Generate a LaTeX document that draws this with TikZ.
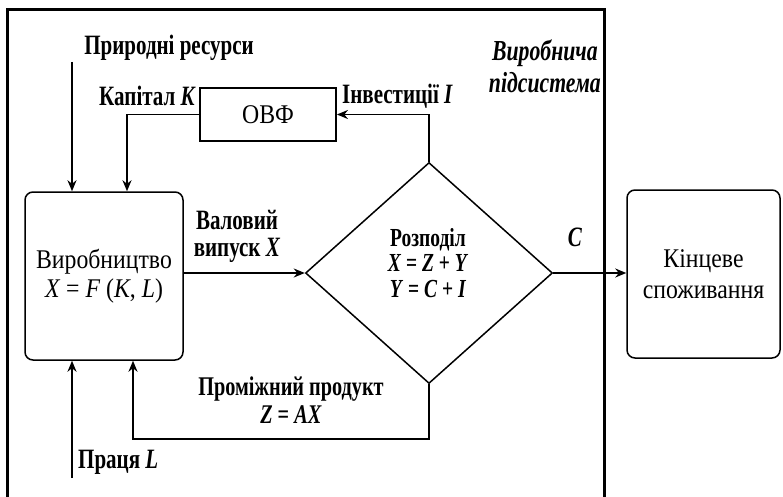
\documentclass[tikz,border=0pt]{standalone}
\usepackage{fontspec}
\setmainfont{Liberation Serif}
\newfontfamily\condb[FakeStretch=0.75]{Liberation Serif}
\newfontfamily\condr[FakeStretch=0.88]{Liberation Serif}
\usetikzlibrary{shapes.geometric,arrows.meta}
\begin{document}
\begin{tikzpicture}[x=1pt,y=-1pt,
  rbox/.style={draw, line width=1.5pt, rounded corners=8pt, inner sep=0pt, align=center,
    font=\condr\fontsize{27}{29}\selectfont},
  sbox/.style={draw, line width=1.8pt, inner sep=0pt, font=\condr\fontsize{27}{29}\selectfont},
  lbl/.style={inner sep=0pt, align=center, font=\condb\bfseries\fontsize{28}{27}\selectfont},
  conn/.style={line width=1.8pt},
  arr/.style={conn, -{Stealth[length=11pt,width=9pt]}}]
\useasboundingbox (0,0) rectangle (783,497);
\draw[line width=3pt] (7,497) -- (7,10) -- (604,10) -- (604,497);
% nodes
\node[rbox, minimum width=158pt, minimum height=168pt] (prod) at (104,276)
  {Виробництво\\\textit{X} = \textit{F} (\textit{K}, \textit{L})};
\node[sbox, minimum width=136pt, minimum height=53pt] (ovf) at (268,114.5) {ОВФ};
\node[draw, line width=1.5pt, diamond, minimum width=247pt, minimum height=221pt, inner sep=0pt] (dia) at (429,273) {};
\node[rbox, font=\condr\fontsize{27}{31}\selectfont, minimum width=153pt, minimum height=168pt] (fin) at (703.5,274)
  {Кінцеве\\споживання};
% free ends
\coordinate (nr) at (72,62);
\coordinate (lab) at (72,478);
% connectors
\draw[arr] (nr) -- (nr |- prod.north);
\draw[arr] (lab) -- (lab |- prod.south);
\draw[arr] (ovf.west) -| ([xshift=23pt]prod.north);
\draw[arr] (dia.north) |- (ovf.east);
\draw[arr] (prod.east |- dia.west) -- (dia.west);
\draw[arr] (dia.east) -- (dia.east -| fin.west);
\draw[arr] (dia.south) -- ++(0,55) -| ([xshift=29pt]prod.south);
% labels
\node[lbl, font=\condb\bfseries\fontsize{26}{25.5}\selectfont] (tdia) at (428,263)
  {Розподіл\\\textit{X} = \textit{Z} + \textit{Y}\\\textit{Y} = \textit{C} + \textit{I}};
\node[lbl] (tnr) at (169,48) {Природні ресурси};
\node[lbl, anchor=east] (tk) at (196,96) {Капітал \textit{K}};
\node[lbl, anchor=west] (ti) at (342,96) {Інвестиції \textit{I}};
\node[lbl] (tx) at (237,236) {Валовий\\випуск \textit{X}};
\node[lbl, font=\condb\bfseries\fontsize{27}{27.5}\selectfont] (tz) at (291,400) {Проміжний продукт\\\textit{Z} = \textit{AX}};
\node[lbl, anchor=west] (tl) at (78,462) {Праця \textit{L}};
\node[lbl] (tc) at (575,237) {\textit{C}};
\node[lbl, anchor=east, font=\condb\bfseries\itshape\fontsize{29}{32}\selectfont] (tsys) at (601,66)
  {Виробнича\\підсистема};
\end{tikzpicture}
\end{document}
